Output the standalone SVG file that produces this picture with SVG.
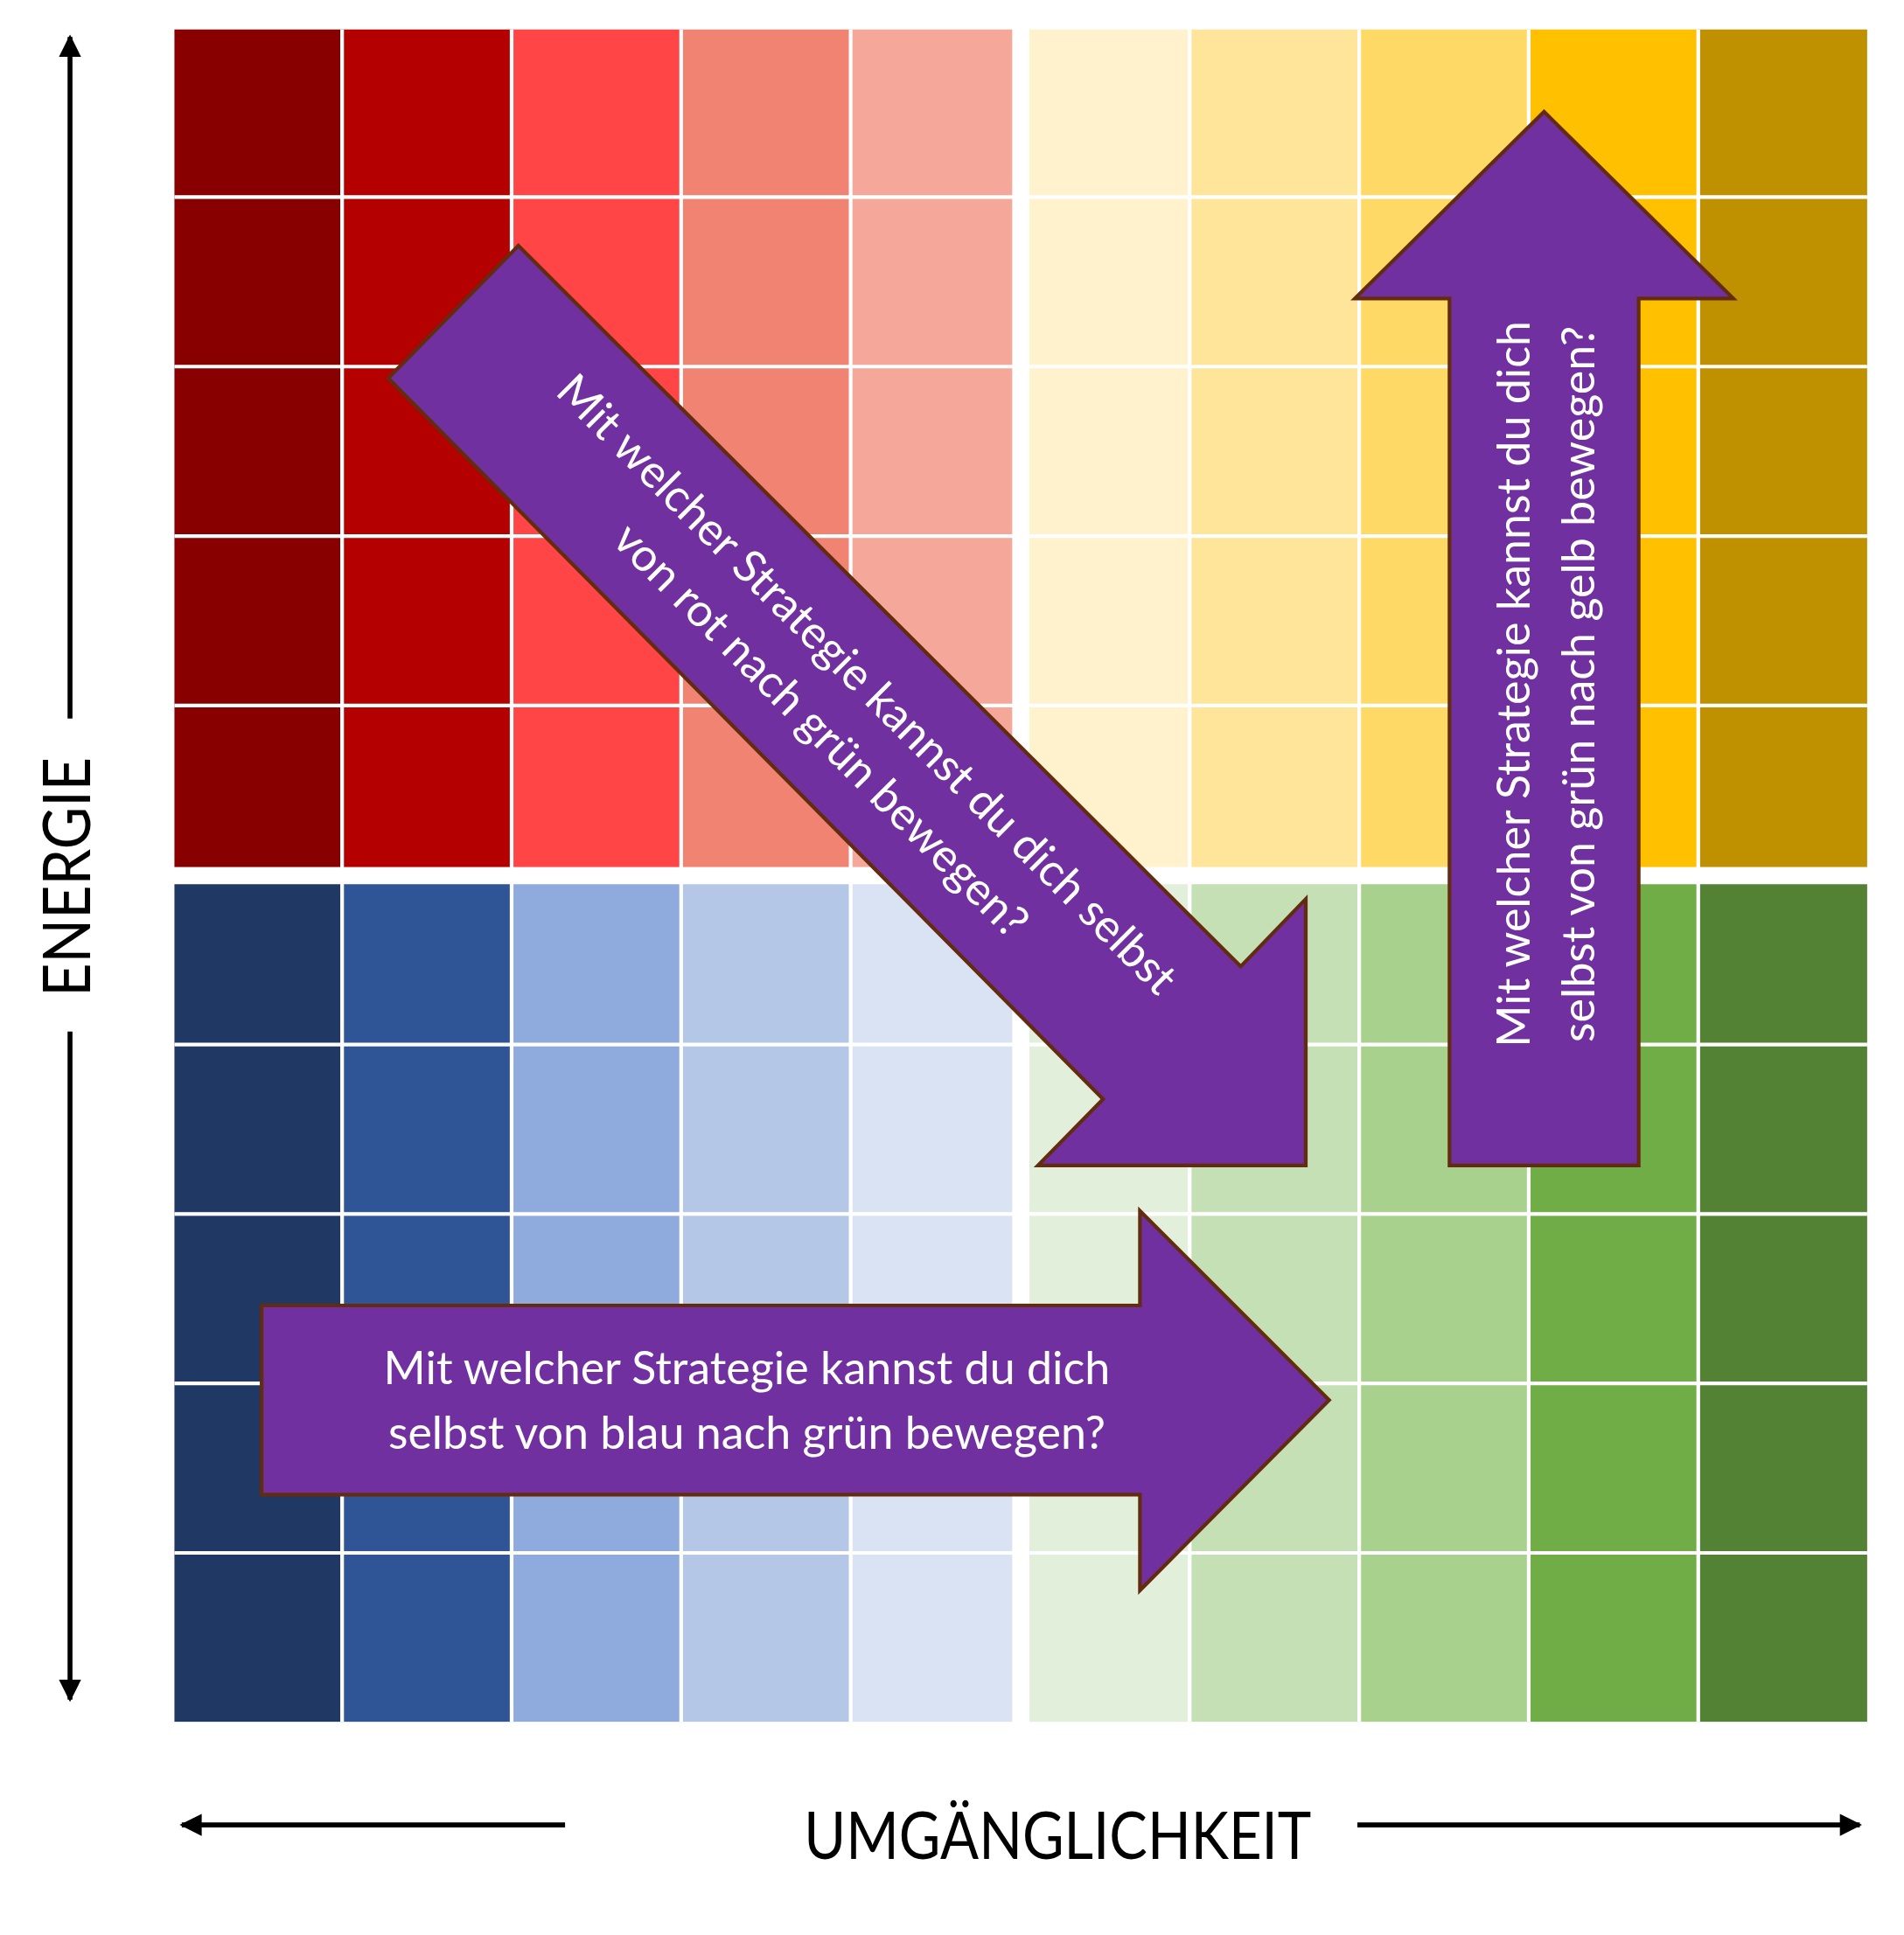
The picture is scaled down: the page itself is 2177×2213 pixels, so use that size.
<svg xmlns="http://www.w3.org/2000/svg" width="2177" height="2213" viewBox="0 0 2177 2213">
<style>
.gl{stroke:#fff;stroke-width:3}
.big{fill:#7030A0;stroke:#632C0F;stroke-width:3;stroke-linejoin:miter}
.t{font-family:Lato,"Open Sans",sans-serif;font-size:37px;fill:#fff;text-anchor:middle}
.ax{stroke:#000;stroke-width:4;fill:none}
.lab{font-family:Lato,"Liberation Sans",sans-serif;font-size:54px;fill:#000;text-anchor:middle}
</style>
<defs>
<marker id="ah" viewBox="0 0 10 10" refX="9" refY="5" markerWidth="5" markerHeight="4.5" orient="auto" markerUnits="strokeWidth"><path d="M0,0L10,5L0,10z" fill="#000"/></marker>
</defs>
<rect width="2177" height="2213" fill="#fff"/>
<g transform="scale(1.40452)">
<g id="grid">
<rect x="142" y="24" width="136" height="682" fill="#880000"/>
<rect x="278" y="24" width="138" height="682" fill="#B50000"/>
<rect x="416" y="24" width="138" height="682" fill="#FF4545"/>
<rect x="554" y="24" width="138" height="682" fill="#F08372"/>
<rect x="692" y="24" width="132" height="682" fill="#F5A79A"/>
<rect x="838" y="24" width="130" height="682" fill="#FFF2CC"/>
<rect x="968" y="24" width="138" height="682" fill="#FFE599"/>
<rect x="1106" y="24" width="138" height="682" fill="#FFD966"/>
<rect x="1244" y="24" width="138" height="682" fill="#FFC000"/>
<rect x="1382" y="24" width="138" height="682" fill="#BF9000"/>
<rect x="142" y="720" width="136" height="682" fill="#203864"/>
<rect x="278" y="720" width="138" height="682" fill="#2F5597"/>
<rect x="416" y="720" width="138" height="682" fill="#8FAADC"/>
<rect x="554" y="720" width="138" height="682" fill="#B4C7E7"/>
<rect x="692" y="720" width="132" height="682" fill="#DAE3F3"/>
<rect x="838" y="720" width="130" height="682" fill="#E2EFDA"/>
<rect x="968" y="720" width="138" height="682" fill="#C5E0B4"/>
<rect x="1106" y="720" width="138" height="682" fill="#A9D18E"/>
<rect x="1244" y="720" width="138" height="682" fill="#70AD47"/>
<rect x="1382" y="720" width="138" height="682" fill="#548235"/>
<path class="gl" d="M278.5,24V1402M416.5,24V1402M554.5,24V1402M692.5,24V1402M968.5,24V1402M1106.5,24V1402M1244.5,24V1402M1382.5,24V1402M142,160.5H1520M142,298.5H1520M142,436.5H1520M142,574.5H1520M142,850.5H1520M142,988.5H1520M142,1126.5H1520M142,1264.5H1520"/>
</g>
<g id="axes">
<line class="ax" x1="57" y1="585" x2="57" y2="30" marker-end="url(#ah)"/>
<line class="ax" x1="57" y1="840" x2="57" y2="1384" marker-end="url(#ah)"/>
<line class="ax" x1="460" y1="1486" x2="148" y2="1486" marker-end="url(#ah)"/>
<line class="ax" x1="1105" y1="1486" x2="1514" y2="1486" marker-end="url(#ah)"/>
<text class="lab" transform="translate(73,714) rotate(-90)" textLength="195" lengthAdjust="spacingAndGlyphs">ENERGIE</text>
<text class="lab" x="861" y="1514" textLength="413" lengthAdjust="spacingAndGlyphs">UMGÄNGLICHKEIT</text>
</g>
<g id="arrow-diag">
<polygon class="big" points="316,308 422,200 1010,787 1063,732 1063,949 845,949 898,895"/>
<g transform="translate(687,576) rotate(45)">
<text class="t" x="0" y="-14">Mit welcher Strategie kannst du dich selbst</text>
<text class="t" x="0" y="39">von rot nach grün bewegen?</text>
</g>
</g>
<g id="arrow-up">
<polygon class="big" points="1257,91 1411,243 1334,243 1334,949 1180,949 1180,243 1103,243"/>
<g transform="translate(1257,557) rotate(-90)">
<text class="t" x="0" y="-12">Mit welcher Strategie kannst du dich</text>
<text class="t" x="0" y="41">selbst von grün nach gelb bewegen?</text>
</g>
</g>
<g id="arrow-right">
<polygon class="big" points="213,1063 928,1063 928,986 1082,1140 928,1295 928,1217 213,1217"/>
<text class="t" x="608" y="1127">Mit welcher Strategie kannst du dich</text>
<text class="t" x="608" y="1180">selbst von blau nach grün bewegen?</text>
</g>
</g>
</svg>
